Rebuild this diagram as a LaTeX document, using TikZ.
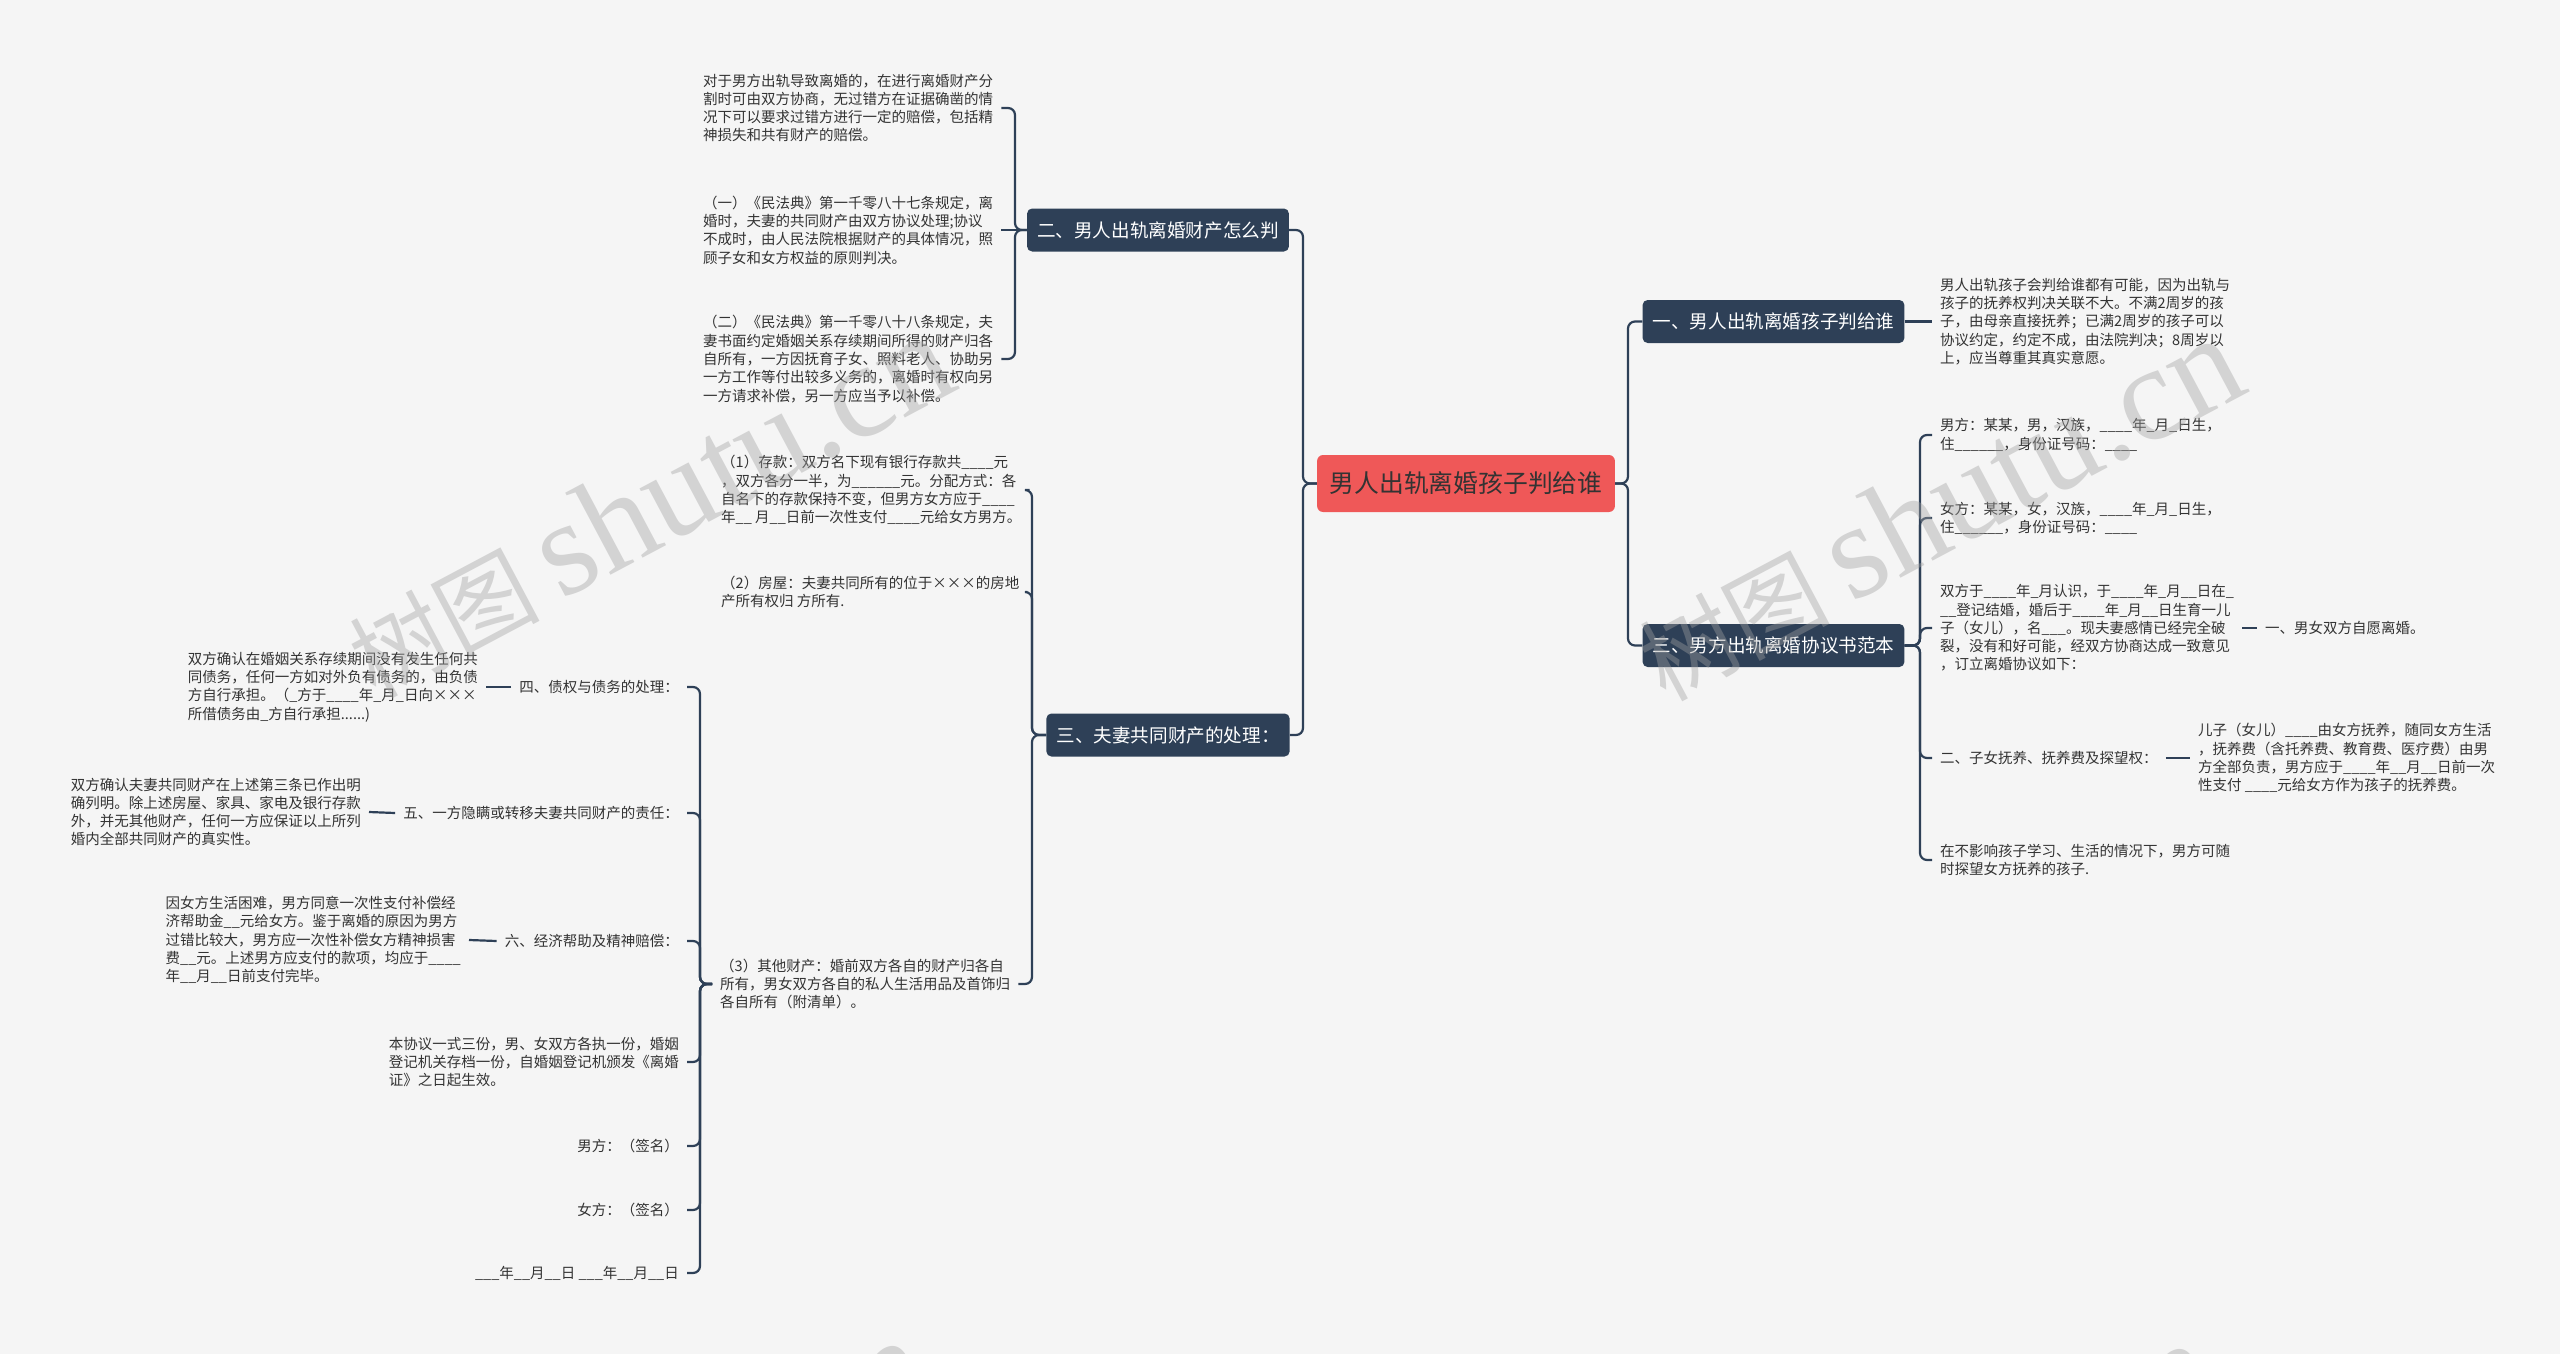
\documentclass[tikz,border=0pt]{standalone}
\usepackage{fontspec}
\setmainfont{Noto Sans CJK SC}
\newfontfamily\wmlatin{Liberation Serif}
\definecolor{bgc}{HTML}{F5F5F5}
\definecolor{boxc}{HTML}{2E4057}
\definecolor{rootc}{HTML}{EF5858}
\definecolor{txtc}{HTML}{333333}
\definecolor{wmc}{HTML}{A0A0A0}
\begin{document}
\begin{tikzpicture}[x=1pt,y=-1pt,
 conn/.style={draw=boxc,line width=2.2pt,rounded corners=7pt},
 plain/.style={draw=boxc,line width=2.2pt},
 leaf/.style={font=\fontsize{14.5}{18.3}\selectfont,text=txtc,align=left,inner xsep=8pt,inner ysep=2pt},
 topic/.style={fill=boxc,text=white,rounded corners=5pt,font=\fontsize{18.6}{22}\selectfont,inner xsep=10pt,minimum height=43pt},
 rootbox/.style={fill=rootc,text=txtc,rounded corners=6pt,font=\fontsize{24.8}{28}\selectfont,inner xsep=12.5pt,minimum height=57pt},
 wm/.style={text=wmc,text opacity=0.4,font=\fontsize{95}{95}\selectfont,rotate=28,anchor=base west,inner sep=0pt}]
\useasboundingbox (0,0) rectangle (2560,1354);
\fill[bgc] (0,0) rectangle (2560,1354);

% trunk coordinates
\coordinate (tL) at (1303,0);
\coordinate (tR) at (1628,0);
\coordinate (t2) at (1015,0);
\coordinate (t3) at (1032,0);
\coordinate (v3) at (700,0);
\coordinate (t4) at (1920,0);

% root and main topics
\node[rootbox] (root) at (1466,483.5) {男人出轨离婚孩子判给谁};
\node[topic] (B2) at (1158,230) {二、男人出轨离婚财产怎么判};
\node[topic] (B3L) at (1168,735) {三、夫妻共同财产的处理：};
\node[topic] (B1) at (1773.5,321.5) {一、男人出轨离婚孩子判给谁};
\node[topic] (B3R) at (1773.5,645.5) {三、男方出轨离婚协议书范本};

% B2 leaves
\node[leaf,anchor=west] (A1) at (695,108) {对于男方出轨导致离婚的，在进行离婚财产分\\割时可由双方协商，无过错方在证据确凿的情\\况下可以要求过错方进行一定的赔偿，包括精\\神损失和共有财产的赔偿。};
\node[leaf,anchor=west] (A2) at (695,230) {（一）《民法典》第一千零八十七条规定，离\\婚时，夫妻的共同财产由双方协议处理;协议\\不成时，由人民法院根据财产的具体情况，照\\顾子女和女方权益的原则判决。};
\node[leaf,anchor=west] (A3) at (695,359) {（二）《民法典》第一千零八十八条规定，夫\\妻书面约定婚姻关系存续期间所得的财产归各\\自所有，一方因抚育子女、照料老人、协助另\\一方工作等付出较多义务的，离婚时有权向另\\一方请求补偿，另一方应当予以补偿。};

% B3L leaves
\node[leaf,anchor=west] (P1) at (713,490) {（1）存款：双方名下现有银行存款共\_\_\_\_元\\，双方各分一半，为\_\_\_\_\_\_元。分配方式：各\\自名下的存款保持不变，但男方女方应于\_\_\_\_\\年\_\_ 月\_\_日前一次性支付\_\_\_\_元给女方男方。};
\node[leaf,anchor=west] (P2) at (713,592) {（2）房屋：夫妻共同所有的位于×××的房地\\产所有权归 方所有.};
\node[leaf,anchor=west] (P3) at (712,984) {（3）其他财产：婚前双方各自的财产归各自\\所有，男女双方各自的私人生活用品及首饰归\\各自所有（附清单）。};

% P3 children
\node[leaf,anchor=east] (S4) at (687,687) {四、债权与债务的处理：};
\node[leaf,anchor=east] (S5) at (687,813) {五、一方隐瞒或转移夫妻共同财产的责任：};
\node[leaf,anchor=east] (S6) at (687,941) {六、经济帮助及精神赔偿：};
\node[leaf,anchor=east] (S7) at (687,1062) {本协议一式三份，男、女双方各执一份，婚姻\\登记机关存档一份，自婚姻登记机颁发《离婚\\证》之日起生效。};
\node[leaf,anchor=east] (S8) at (687,1146) {男方：（签名）};
\node[leaf,anchor=east] (S9) at (687,1210) {女方：（签名）};
\node[leaf,anchor=east] (S10) at (687,1273) {\_\_\_年\_\_月\_\_日 \_\_\_年\_\_月\_\_日};

% grandchildren
\node[leaf,anchor=east] (G4) at (486,687) {双方确认在婚姻关系存续期间没有发生任何共\\同债务，任何一方如对外负有债务的，由负债\\方自行承担。（\_方于\_\_\_\_年\_月\_日向×××\\所借债务由\_方自行承担......)};
\node[leaf,anchor=east] (G5) at (369,812) {双方确认夫妻共同财产在上述第三条已作出明\\确列明。除上述房屋、家具、家电及银行存款\\外，并无其他财产，任何一方应保证以上所列\\婚内全部共同财产的真实性。};
\node[leaf,anchor=east] (G6) at (469,940) {因女方生活困难，男方同意一次性支付补偿经\\济帮助金\_\_元给女方。鉴于离婚的原因为男方\\过错比较大，男方应一次性补偿女方精神损害\\费\_\_元。上述男方应支付的款项，均应于\_\_\_\_\\年\_\_月\_\_日前支付完毕。};

% right side
\node[leaf,anchor=west] (R1) at (1932,321.5) {男人出轨孩子会判给谁都有可能，因为出轨与\\孩子的抚养权判决关联不大。不满2周岁的孩\\子，由母亲直接抚养；已满2周岁的孩子可以\\协议约定，约定不成，由法院判决；8周岁以\\上，应当尊重其真实意愿。};
\node[leaf,anchor=west] (R2) at (1932,435) {男方：某某，男，汉族，\_\_\_\_年\_月\_日生，\\住\_\_\_\_\_\_，身份证号码：\_\_\_\_};
\node[leaf,anchor=west] (R3) at (1932,518) {女方：某某，女，汉族，\_\_\_\_年\_月\_日生，\\住\_\_\_\_\_\_，身份证号码：\_\_\_\_};
\node[leaf,anchor=west] (R4) at (1932,628) {双方于\_\_\_\_年\_月认识，于\_\_\_\_年\_月\_\_日在\_\\\_\_登记结婚，婚后于\_\_\_\_年\_月\_\_日生育一儿\\子（女儿），名\_\_\_。现夫妻感情已经完全破\\裂，没有和好可能，经双方协商达成一致意见\\，订立离婚协议如下：};
\node[leaf,anchor=west] (R4a) at (2257,628) {一、男女双方自愿离婚。};
\node[leaf,anchor=west] (R5) at (1932,758) {二、子女抚养、抚养费及探望权：};
\node[leaf,anchor=west] (R5a) at (2190,758) {儿子（女儿）\_\_\_\_由女方抚养，随同女方生活\\，抚养费（含托养费、教育费、医疗费）由男\\方全部负责，男方应于\_\_\_\_年\_\_月\_\_日前一次\\性支付 \_\_\_\_元给女方作为孩子的抚养费。};
\node[leaf,anchor=west] (R6) at (1932,860) {在不影响孩子学习、生活的情况下，男方可随\\时探望女方抚养的孩子.};

% connectors: root
\draw[conn] (root.west) -- (root.west -| tL) -- (B2.east -| tL) -- (B2.east);
\draw[conn] (root.west) -- (root.west -| tL) -- (B3L.east -| tL) -- (B3L.east);
\draw[conn] (root.east) -- (root.east -| tR) -- (B1.west -| tR) -- (B1.west);
\draw[conn] (root.east) -- (root.east -| tR) -- (B3R.west -| tR) -- (B3R.west);

% B2
\draw[conn] (B2.west) -- (B2.west -| t2) -- (A1.east -| t2) -- (A1.east);
\draw[plain] (B2.west) -- (A2.east);
\draw[conn] (B2.west) -- (B2.west -| t2) -- (A3.east -| t2) -- (A3.east);

% B3L
\foreach \c in {P1,P2,P3}
  \draw[conn] (B3L.west) -- (B3L.west -| t3) -- (\c.east -| t3) -- (\c.east);

% P3
\foreach \c in {S4,S5,S6,S7,S8,S9,S10}
  \draw[conn] (P3.west) -- (P3.west -| v3) -- (\c.east -| v3) -- (\c.east);
\draw[plain] (S4.west) -- (G4.east);
\draw[plain] (S5.west) -- (G5.east);
\draw[plain] (S6.west) -- (G6.east);

% right
\draw[plain] (B1.east) -- (R1.west);
\foreach \c in {R2,R3,R4,R5,R6}
  \draw[conn] (B3R.east) -- (B3R.east -| t4) -- (\c.west -| t4) -- (\c.west);
\draw[plain] (R4.east) -- (R4a.west);
\draw[plain] (R5.east) -- (R5a.west);

% watermarks
\begin{scope}
\clip (0,0) rectangle (2560,1354);
\node[wm] (wm1) at (375,700) {树图 {\wmlatin\fontsize{135}{135}\selectfont shutu.cn}};
\node[wm] (wm2) at (1665,703) {树图 {\wmlatin\fontsize{135}{135}\selectfont shutu.cn}};
\node[wm] (wm3) at (350,1705) {树图 {\wmlatin\fontsize{135}{135}\selectfont shutu.cn}};
\node[wm] (wm4) at (1637,1708) {树图 {\wmlatin\fontsize{135}{135}\selectfont shutu.cn}};
\end{scope}
\end{tikzpicture}
\end{document}
